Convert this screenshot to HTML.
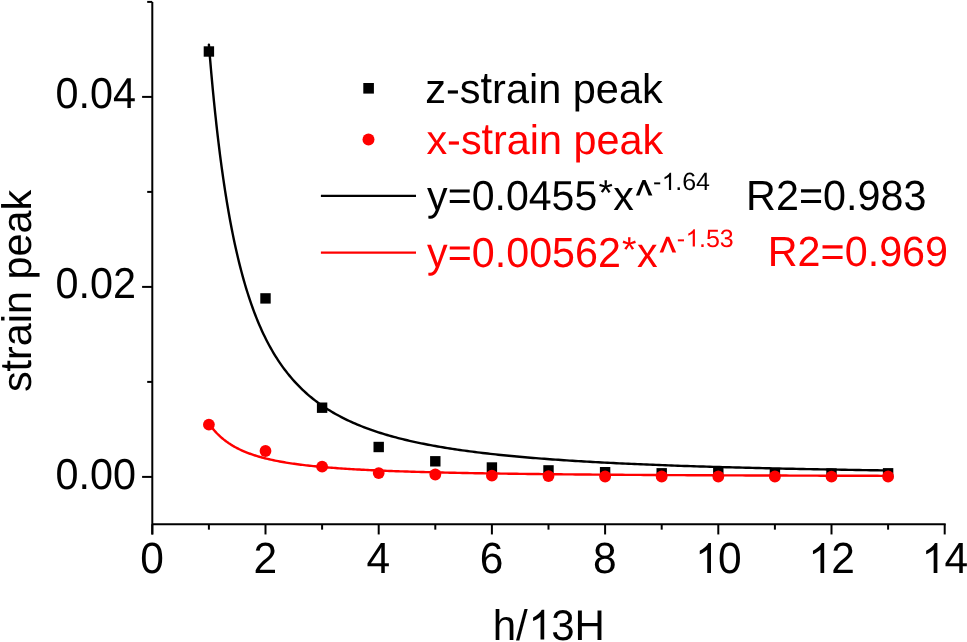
<!DOCTYPE html>
<html><head><meta charset="utf-8"><style>
html,body{margin:0;padding:0;background:#fff;width:967px;height:642px;overflow:hidden}
svg{display:block;will-change:transform}
text{font-family:"Liberation Sans",sans-serif;text-rendering:geometricPrecision}
</style></head><body>
<svg width="967" height="642" viewBox="0 0 967 642">
<g stroke="#000" stroke-width="2" fill="none">
<path d="M152.3,1.9 V534.4 M151.3,524.25 H945.70"/>
<path d="M142.1,476.90 H152.3"/>
<path d="M142.1,286.90 H152.3"/>
<path d="M142.1,96.90 H152.3"/>
<path d="M147.2,381.90 H152.3"/>
<path d="M147.2,191.90 H152.3"/>
<path d="M147.2,1.90 H152.3"/>
<path d="M152.30,524.25 V534.45"/>
<path d="M208.90,524.25 V529.65"/>
<path d="M265.50,524.25 V534.45"/>
<path d="M322.10,524.25 V529.65"/>
<path d="M378.70,524.25 V534.45"/>
<path d="M435.30,524.25 V529.65"/>
<path d="M491.90,524.25 V534.45"/>
<path d="M548.50,524.25 V529.65"/>
<path d="M605.10,524.25 V534.45"/>
<path d="M661.70,524.25 V529.65"/>
<path d="M718.30,524.25 V534.45"/>
<path d="M774.90,524.25 V529.65"/>
<path d="M831.50,524.25 V534.45"/>
<path d="M888.10,524.25 V529.65"/>
<path d="M944.70,524.25 V534.45"/>
</g>
<rect x="203.70" y="46.30" width="10.4" height="10.4" fill="#000"/>
<rect x="260.30" y="293.20" width="10.4" height="10.4" fill="#000"/>
<rect x="316.90" y="402.50" width="10.4" height="10.4" fill="#000"/>
<rect x="373.50" y="441.80" width="10.4" height="10.4" fill="#000"/>
<rect x="430.10" y="456.10" width="10.4" height="10.4" fill="#000"/>
<rect x="486.70" y="462.30" width="10.4" height="10.4" fill="#000"/>
<rect x="543.30" y="465.20" width="10.4" height="10.4" fill="#000"/>
<rect x="599.90" y="467.00" width="10.4" height="10.4" fill="#000"/>
<rect x="656.50" y="468.10" width="10.4" height="10.4" fill="#000"/>
<rect x="713.10" y="467.80" width="10.4" height="10.4" fill="#000"/>
<rect x="769.70" y="468.00" width="10.4" height="10.4" fill="#000"/>
<rect x="826.30" y="468.30" width="10.4" height="10.4" fill="#000"/>
<rect x="882.90" y="468.10" width="10.4" height="10.4" fill="#000"/>
<path d="M208.90,44.65 L208.97,45.57 L209.12,47.44 L209.33,49.96 L209.58,53.02 L209.87,56.53 L210.20,60.44 L210.56,64.69 L210.96,69.25 L211.39,74.07 L211.84,79.12 L212.33,84.37 L212.84,89.80 L213.38,95.37 L213.94,101.08 L214.53,106.89 L215.14,112.78 L215.78,118.74 L216.43,124.75 L217.12,130.80 L217.82,136.86 L218.54,142.94 L219.29,149.01 L220.05,155.06 L220.84,161.09 L221.64,167.09 L222.47,173.04 L223.31,178.95 L224.18,184.79 L225.06,190.58 L225.96,196.30 L226.88,201.95 L227.82,207.52 L228.77,213.01 L229.74,218.42 L230.73,223.75 L231.74,228.99 L232.76,234.14 L233.80,239.20 L234.86,244.17 L235.93,249.05 L237.02,253.83 L238.13,258.53 L239.25,263.13 L240.39,267.63 L241.54,272.05 L242.71,276.37 L243.89,280.60 L245.09,284.75 L246.30,288.80 L247.53,292.76 L248.78,296.64 L250.03,300.43 L251.31,304.13 L252.60,307.76 L253.90,311.30 L255.21,314.76 L256.54,318.14 L257.89,321.44 L259.25,324.66 L260.62,327.81 L262.00,330.89 L263.40,333.89 L264.82,336.83 L266.24,339.69 L267.68,342.49 L269.14,345.22 L270.61,347.89 L272.09,350.49 L273.58,353.04 L275.09,355.52 L276.60,357.94 L278.14,360.31 L279.68,362.62 L281.24,364.87 L282.81,367.08 L284.39,369.23 L285.99,371.33 L287.60,373.38 L289.22,375.38 L290.85,377.33 L292.49,379.24 L294.15,381.11 L295.82,382.93 L297.50,384.70 L299.20,386.44 L300.90,388.14 L302.62,389.79 L304.35,391.41 L306.09,393.00 L307.84,394.54 L309.61,396.05 L311.39,397.53 L313.17,398.97 L314.97,400.38 L316.79,401.75 L318.61,403.10 L320.44,404.42 L322.29,405.70 L324.14,406.96 L326.01,408.19 L327.89,409.39 L329.78,410.57 L331.68,411.72 L333.60,412.84 L335.52,413.94 L337.46,415.01 L339.40,416.07 L341.36,417.10 L343.33,418.10 L345.31,419.09 L347.30,420.05 L349.30,421.00 L351.31,421.92 L353.33,422.82 L355.36,423.71 L357.40,424.57 L359.46,425.42 L361.52,426.25 L363.60,427.07 L365.68,427.86 L367.78,428.64 L369.88,429.40 L372.00,430.15 L374.13,430.89 L376.26,431.60 L378.41,432.31 L380.57,433.00 L382.74,433.67 L384.91,434.33 L387.10,434.98 L389.30,435.62 L391.51,436.24 L393.73,436.85 L395.96,437.45 L398.19,438.04 L400.44,438.61 L402.70,439.18 L404.97,439.73 L407.25,440.28 L409.54,440.81 L411.83,441.33 L414.14,441.84 L416.46,442.35 L418.79,442.84 L421.12,443.32 L423.47,443.80 L425.83,444.27 L428.19,444.72 L430.57,445.17 L432.95,445.61 L435.35,446.05 L437.75,446.47 L440.17,446.89 L442.59,447.30 L445.02,447.70 L447.46,448.10 L449.91,448.48 L452.38,448.87 L454.85,449.24 L457.33,449.61 L459.81,449.97 L462.31,450.32 L464.82,450.67 L467.34,451.02 L469.86,451.35 L472.40,451.68 L474.94,452.01 L477.50,452.33 L480.06,452.64 L482.63,452.95 L485.21,453.26 L487.80,453.55 L490.40,453.85 L493.01,454.14 L495.62,454.42 L498.25,454.70 L500.89,454.97 L503.53,455.24 L506.18,455.51 L508.84,455.77 L511.51,456.03 L514.19,456.28 L516.88,456.53 L519.58,456.77 L522.29,457.01 L525.00,457.25 L527.72,457.48 L530.46,457.71 L533.20,457.94 L535.95,458.16 L538.70,458.38 L541.47,458.60 L544.25,458.81 L547.03,459.02 L549.83,459.22 L552.63,459.43 L555.44,459.63 L558.26,459.82 L561.08,460.01 L563.92,460.21 L566.76,460.39 L569.62,460.58 L572.48,460.76 L575.35,460.94 L578.23,461.11 L581.11,461.29 L584.01,461.46 L586.91,461.63 L589.82,461.80 L592.74,461.96 L595.67,462.12 L598.61,462.28 L601.55,462.44 L604.51,462.59 L607.47,462.74 L610.44,462.89 L613.42,463.04 L616.41,463.19 L619.40,463.33 L622.40,463.47 L625.42,463.61 L628.44,463.75 L631.46,463.89 L634.50,464.02 L637.54,464.15 L640.60,464.28 L643.66,464.41 L646.72,464.54 L649.80,464.66 L652.88,464.79 L655.98,464.91 L659.08,465.03 L662.19,465.15 L665.30,465.27 L668.43,465.38 L671.56,465.49 L674.70,465.61 L677.85,465.72 L681.01,465.83 L684.17,465.93 L687.34,466.04 L690.52,466.15 L693.71,466.25 L696.91,466.35 L700.11,466.45 L703.32,466.55 L706.54,466.65 L709.77,466.75 L713.01,466.84 L716.25,466.94 L719.50,467.03 L722.76,467.12 L726.03,467.22 L729.30,467.31 L732.58,467.39 L735.87,467.48 L739.17,467.57 L742.47,467.65 L745.79,467.74 L749.11,467.82 L752.44,467.90 L755.77,467.99 L759.12,468.07 L762.47,468.15 L765.83,468.22 L769.19,468.30 L772.57,468.38 L775.95,468.45 L779.34,468.53 L782.73,468.60 L786.14,468.68 L789.55,468.75 L792.97,468.82 L796.40,468.89 L799.83,468.96 L803.27,469.03 L806.72,469.10 L810.18,469.16 L813.64,469.23 L817.11,469.29 L820.59,469.36 L824.08,469.42 L827.57,469.49 L831.08,469.55 L834.58,469.61 L838.10,469.67 L841.62,469.73 L845.16,469.79 L848.69,469.85 L852.24,469.91 L855.79,469.97 L859.35,470.03 L862.92,470.08 L866.50,470.14 L870.08,470.19 L873.67,470.25 L877.27,470.30 L880.87,470.36 L884.48,470.41 L888.10,470.46" stroke="#000" stroke-width="2.4" stroke-linecap="round" stroke-linejoin="round" fill="none"/>
<circle cx="208.90" cy="424.60" r="5.9" fill="#f00"/>
<circle cx="265.50" cy="451.00" r="5.9" fill="#f00"/>
<circle cx="322.10" cy="466.70" r="5.9" fill="#f00"/>
<circle cx="378.70" cy="473.10" r="5.9" fill="#f00"/>
<circle cx="435.30" cy="474.50" r="5.9" fill="#f00"/>
<circle cx="491.90" cy="475.70" r="5.9" fill="#f00"/>
<circle cx="548.50" cy="476.10" r="5.9" fill="#f00"/>
<circle cx="605.10" cy="476.50" r="5.9" fill="#f00"/>
<circle cx="661.70" cy="476.50" r="5.9" fill="#f00"/>
<circle cx="718.30" cy="476.50" r="5.9" fill="#f00"/>
<circle cx="774.90" cy="476.50" r="5.9" fill="#f00"/>
<circle cx="831.50" cy="476.60" r="5.9" fill="#f00"/>
<circle cx="888.10" cy="476.50" r="5.9" fill="#f00"/>
<path d="M208.90,423.51 L208.97,423.62 L209.12,423.83 L209.33,424.12 L209.58,424.48 L209.87,424.88 L210.20,425.33 L210.56,425.82 L210.96,426.35 L211.39,426.91 L211.84,427.49 L212.33,428.10 L212.84,428.73 L213.38,429.38 L213.94,430.04 L214.53,430.72 L215.14,431.40 L215.78,432.10 L216.43,432.80 L217.12,433.51 L217.82,434.22 L218.54,434.93 L219.29,435.64 L220.05,436.35 L220.84,437.06 L221.64,437.77 L222.47,438.47 L223.31,439.17 L224.18,439.86 L225.06,440.54 L225.96,441.22 L226.88,441.89 L227.82,442.55 L228.77,443.21 L229.74,443.85 L230.73,444.49 L231.74,445.12 L232.76,445.73 L233.80,446.34 L234.86,446.94 L235.93,447.52 L237.02,448.10 L238.13,448.66 L239.25,449.22 L240.39,449.76 L241.54,450.30 L242.71,450.82 L243.89,451.34 L245.09,451.84 L246.30,452.33 L247.53,452.82 L248.78,453.29 L250.03,453.75 L251.31,454.21 L252.60,454.65 L253.90,455.09 L255.21,455.51 L256.54,455.93 L257.89,456.33 L259.25,456.73 L260.62,457.12 L262.00,457.50 L263.40,457.88 L264.82,458.24 L266.24,458.60 L267.68,458.95 L269.14,459.29 L270.61,459.62 L272.09,459.94 L273.58,460.26 L275.09,460.57 L276.60,460.88 L278.14,461.18 L279.68,461.47 L281.24,461.75 L282.81,462.03 L284.39,462.30 L285.99,462.57 L287.60,462.83 L289.22,463.08 L290.85,463.33 L292.49,463.57 L294.15,463.81 L295.82,464.04 L297.50,464.27 L299.20,464.49 L300.90,464.71 L302.62,464.92 L304.35,465.13 L306.09,465.33 L307.84,465.53 L309.61,465.73 L311.39,465.92 L313.17,466.10 L314.97,466.28 L316.79,466.46 L318.61,466.64 L320.44,466.81 L322.29,466.97 L324.14,467.14 L326.01,467.30 L327.89,467.46 L329.78,467.61 L331.68,467.76 L333.60,467.91 L335.52,468.05 L337.46,468.19 L339.40,468.33 L341.36,468.47 L343.33,468.60 L345.31,468.73 L347.30,468.85 L349.30,468.98 L351.31,469.10 L353.33,469.22 L355.36,469.34 L357.40,469.45 L359.46,469.57 L361.52,469.68 L363.60,469.78 L365.68,469.89 L367.78,469.99 L369.88,470.10 L372.00,470.20 L374.13,470.30 L376.26,470.39 L378.41,470.49 L380.57,470.58 L382.74,470.67 L384.91,470.76 L387.10,470.85 L389.30,470.93 L391.51,471.02 L393.73,471.10 L395.96,471.18 L398.19,471.26 L400.44,471.34 L402.70,471.41 L404.97,471.49 L407.25,471.56 L409.54,471.63 L411.83,471.71 L414.14,471.78 L416.46,471.84 L418.79,471.91 L421.12,471.98 L423.47,472.04 L425.83,472.11 L428.19,472.17 L430.57,472.23 L432.95,472.29 L435.35,472.35 L437.75,472.41 L440.17,472.47 L442.59,472.52 L445.02,472.58 L447.46,472.63 L449.91,472.69 L452.38,472.74 L454.85,472.79 L457.33,472.84 L459.81,472.89 L462.31,472.94 L464.82,472.99 L467.34,473.04 L469.86,473.09 L472.40,473.13 L474.94,473.18 L477.50,473.22 L480.06,473.27 L482.63,473.31 L485.21,473.35 L487.80,473.39 L490.40,473.43 L493.01,473.47 L495.62,473.51 L498.25,473.55 L500.89,473.59 L503.53,473.63 L506.18,473.67 L508.84,473.70 L511.51,473.74 L514.19,473.78 L516.88,473.81 L519.58,473.85 L522.29,473.88 L525.00,473.91 L527.72,473.95 L530.46,473.98 L533.20,474.01 L535.95,474.04 L538.70,474.07 L541.47,474.11 L544.25,474.14 L547.03,474.17 L549.83,474.19 L552.63,474.22 L555.44,474.25 L558.26,474.28 L561.08,474.31 L563.92,474.33 L566.76,474.36 L569.62,474.39 L572.48,474.41 L575.35,474.44 L578.23,474.47 L581.11,474.49 L584.01,474.52 L586.91,474.54 L589.82,474.56 L592.74,474.59 L595.67,474.61 L598.61,474.63 L601.55,474.66 L604.51,474.68 L607.47,474.70 L610.44,474.72 L613.42,474.74 L616.41,474.77 L619.40,474.79 L622.40,474.81 L625.42,474.83 L628.44,474.85 L631.46,474.87 L634.50,474.89 L637.54,474.91 L640.60,474.92 L643.66,474.94 L646.72,474.96 L649.80,474.98 L652.88,475.00 L655.98,475.02 L659.08,475.03 L662.19,475.05 L665.30,475.07 L668.43,475.09 L671.56,475.10 L674.70,475.12 L677.85,475.14 L681.01,475.15 L684.17,475.17 L687.34,475.18 L690.52,475.20 L693.71,475.21 L696.91,475.23 L700.11,475.24 L703.32,475.26 L706.54,475.27 L709.77,475.29 L713.01,475.30 L716.25,475.32 L719.50,475.33 L722.76,475.34 L726.03,475.36 L729.30,475.37 L732.58,475.38 L735.87,475.40 L739.17,475.41 L742.47,475.42 L745.79,475.43 L749.11,475.45 L752.44,475.46 L755.77,475.47 L759.12,475.48 L762.47,475.50 L765.83,475.51 L769.19,475.52 L772.57,475.53 L775.95,475.54 L779.34,475.55 L782.73,475.56 L786.14,475.57 L789.55,475.59 L792.97,475.60 L796.40,475.61 L799.83,475.62 L803.27,475.63 L806.72,475.64 L810.18,475.65 L813.64,475.66 L817.11,475.67 L820.59,475.68 L824.08,475.69 L827.57,475.70 L831.08,475.71 L834.58,475.72 L838.10,475.73 L841.62,475.73 L845.16,475.74 L848.69,475.75 L852.24,475.76 L855.79,475.77 L859.35,475.78 L862.92,475.79 L866.50,475.80 L870.08,475.80 L873.67,475.81 L877.27,475.82 L880.87,475.83 L884.48,475.84 L888.10,475.85" stroke="#f00" stroke-width="2.4" stroke-linecap="round" stroke-linejoin="round" fill="none"/>
<text x="55.38" y="467.61" font-size="41.40" fill="#000" transform="scale(1,1.045)">0.00</text>
<text x="55.38" y="285.55" font-size="41.40" fill="#000" transform="scale(1,1.045)">0.02</text>
<text x="55.38" y="103.54" font-size="41.40" fill="#000" transform="scale(1,1.045)">0.04</text>
<text x="140.18" y="559.12" font-size="42.50" fill="#000" transform="scale(1,1.025)">0</text>
<text x="253.38" y="559.12" font-size="42.50" fill="#000" transform="scale(1,1.025)">2</text>
<text x="366.58" y="559.12" font-size="42.50" fill="#000" transform="scale(1,1.025)">4</text>
<text x="479.78" y="559.12" font-size="42.50" fill="#000" transform="scale(1,1.025)">6</text>
<text x="592.98" y="559.12" font-size="42.50" fill="#000" transform="scale(1,1.025)">8</text>
<path d="M801,0 L621,0 L621,1095 Q556,1035 450,975 Q344,915 260,882 L260,1056 Q411,1127 524,1228 Q637,1329 684,1420 L801,1420 Z" fill="#000" transform="translate(694.36,573.10) scale(0.02075,-0.02127)"/>
<text x="718.00" y="559.12" font-size="42.50" fill="#000" transform="scale(1,1.025)">0</text>
<path d="M801,0 L621,0 L621,1095 Q556,1035 450,975 Q344,915 260,882 L260,1056 Q411,1127 524,1228 Q637,1329 684,1420 L801,1420 Z" fill="#000" transform="translate(807.56,573.10) scale(0.02075,-0.02127)"/>
<text x="831.20" y="559.12" font-size="42.50" fill="#000" transform="scale(1,1.025)">2</text>
<path d="M801,0 L621,0 L621,1095 Q556,1035 450,975 Q344,915 260,882 L260,1056 Q411,1127 524,1228 Q637,1329 684,1420 L801,1420 Z" fill="#000" transform="translate(920.76,573.10) scale(0.02075,-0.02127)"/>
<text x="944.40" y="559.12" font-size="42.50" fill="#000" transform="scale(1,1.025)">4</text>
<text x="492.69" y="627.06" font-size="42.06" fill="#000" transform="scale(1,1.02)">h/</text>
<path d="M801,0 L621,0 L621,1095 Q556,1035 450,975 Q344,915 260,882 L260,1056 Q411,1127 524,1228 Q637,1329 684,1420 L801,1420 Z" fill="#000" transform="translate(527.77,639.60) scale(0.02054,-0.02095)"/>
<text x="551.16" y="627.06" font-size="42.06" fill="#000" transform="scale(1,1.02)">3H</text>
<g transform="translate(30.7,392.05) rotate(-90)"><text x="0.00" y="0.00" font-size="41.34" fill="#000">s</text>
<text x="0" y="0" font-size="41.34" fill="#000" transform="translate(20.67,0.00) scale(1,1.0800)">t</text>
<text x="32.16" y="0.00" font-size="41.34" fill="#000">rain peak</text></g>
<rect x="363.3" y="83" width="10.6" height="10.6" fill="#000"/>
<circle cx="368.5" cy="139.4" r="6" fill="#f00"/>
<text x="425.22" y="102.50" font-size="41.50" fill="#000">z-s</text>
<text x="0" y="0" font-size="41.50" fill="#000" transform="translate(480.54,102.50) scale(1,1.0800)">t</text>
<text x="492.07" y="102.50" font-size="41.50" fill="#000">rain peak</text>
<text x="426.44" y="153.50" font-size="41.35" fill="#f00">x-s</text>
<text x="0" y="0" font-size="41.35" fill="#f00" transform="translate(481.56,153.50) scale(1,1.0800)">t</text>
<text x="493.04" y="153.50" font-size="41.35" fill="#f00">rain peak</text>
<path d="M320.9,195.9 H416" stroke="#000" stroke-width="2.2"/>
<path d="M320.9,252.7 H416" stroke="#f00" stroke-width="2.2"/>
<text x="427.10" y="205.78" font-size="41.10" fill="#000" transform="scale(1,1.02)">y=0.0455</text>
<text x="0" y="0" font-size="41.10" fill="#000" transform="translate(598.45,204.91) scale(0.901,0.8744)">*</text>
<text x="613.35" y="205.78" font-size="41.10" fill="#000" transform="scale(1,1.02)">x</text>
<path d="M100,699 L428,1466 L578,1466 L922,699 L732,699 L503,1265 L279,699 Z" fill="#000" transform="translate(633.90,209.90) scale(0.02007,-0.02047)"/>
<text x="653.00" y="190.00" font-size="25.00" fill="#000">-</text>
<path d="M801,0 L621,0 L621,1095 Q556,1035 450,975 Q344,915 260,882 L260,1056 Q411,1127 524,1228 Q637,1329 684,1420 L801,1420 Z" fill="#000" transform="translate(661.33,190.00) scale(0.01221,-0.01221)"/>
<text x="675.23" y="190.00" font-size="25.00" fill="#000">.64</text>
<text x="746.10" y="205.88" font-size="41.30" fill="#000" transform="scale(1,1.02)">R2=0.983</text>
<text x="427.10" y="261.57" font-size="41.25" fill="#f00" transform="scale(1,1.02)">y=0.00562</text>
<text x="0" y="0" font-size="41.25" fill="#f00" transform="translate(622.02,261.79) scale(0.901,0.8744)">*</text>
<text x="636.98" y="261.57" font-size="41.25" fill="#f00" transform="scale(1,1.02)">x</text>
<path d="M100,699 L428,1466 L578,1466 L922,699 L732,699 L503,1265 L279,699 Z" fill="#f00" transform="translate(657.60,266.80) scale(0.02014,-0.02054)"/>
<text x="676.80" y="246.50" font-size="25.00" fill="#f00">-</text>
<path d="M801,0 L621,0 L621,1095 Q556,1035 450,975 Q344,915 260,882 L260,1056 Q411,1127 524,1228 Q637,1329 684,1420 L801,1420 Z" fill="#f00" transform="translate(685.13,246.50) scale(0.01221,-0.01221)"/>
<text x="699.03" y="246.50" font-size="25.00" fill="#f00">.53</text>
<text x="767.80" y="261.08" font-size="41.30" fill="#f00" transform="scale(1,1.02)">R2=0.969</text>
</svg>
</body></html>
